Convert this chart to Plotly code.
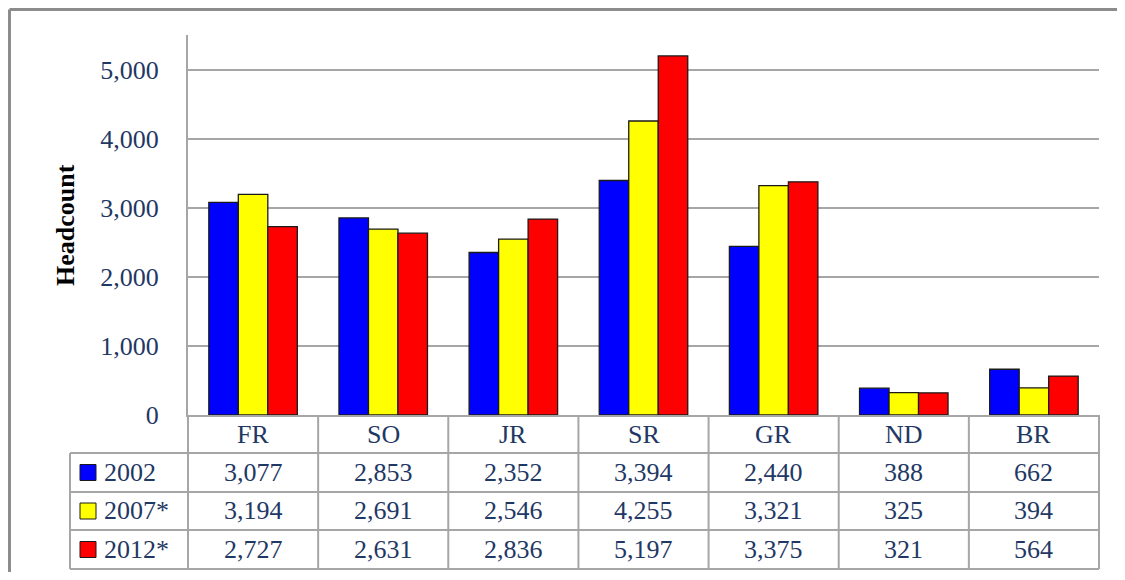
import plotly.graph_objects as go

categories = ["FR", "SO", "JR", "SR", "GR", "ND", "BR"]
series_names = ["2002", "2007*", "2012*"]
v2002 = [3077, 2853, 2352, 3394, 2440, 388, 662]
v2007 = [3194, 2691, 2546, 4255, 3321, 325, 394]
v2012 = [2727, 2631, 2836, 5197, 3375, 321, 564]
colors = ["#0000FF", "#FFFF00", "#FF0000"]
y_ticks = [0, 1000, 2000, 3000, 4000, 5000]

series = [v2002, v2007, v2012]

# page body has an 8px margin all round, keep the figure inside the window
OFF = 8
W, H = 1125 - 2 * OFF, 580 - 2 * OFF
L, R, T, B = 180, 18, 27, 157
PW, PH = W - L - R, H - T - B

# screen pixel -> paper helpers for the table drawn under the plot
def px(x):
    return (x - OFF - L) / PW

def py(y):
    return (H - B - (y - OFF)) / PH

navy = "#1F3864"
grey = "#A6A6A6"
font = "Liberation Serif"
fs = 26

fig = go.Figure()
for name, vals, col in zip(series_names, series, colors):
    fig.add_trace(go.Bar(x=categories, y=vals, name=name,
                         marker=dict(color=col, line=dict(color="#1a1a1a", width=1.3)),
                         showlegend=False))

shapes = []
annotations = []

# outer frame: only top and left edges show in the picture
frame = dict(color="#8C8C8C", width=3)
shapes.append(dict(type="line", xref="paper", yref="paper",
                   x0=px(9.5), x1=px(1140), y0=py(9.5), y1=py(9.5), line=frame))
shapes.append(dict(type="line", xref="paper", yref="paper",
                   x0=px(9.5), x1=px(9.5), y0=py(9.5), y1=py(600), line=frame))

# data table rows: header row then one row per series
row_edges = [415, 453, 492, 530, 569]
n = len(categories)
for y in row_edges[1:]:
    shapes.append(dict(type="line", xref="paper", yref="paper",
                       x0=px(70), x1=1, y0=py(y), y1=py(y),
                       line=dict(color=grey, width=2)))
for i in range(n + 1):
    shapes.append(dict(type="line", xref="paper", yref="paper",
                       x0=i / n, x1=i / n, y0=py(415), y1=py(569),
                       line=dict(color=grey, width=2)))
shapes.append(dict(type="line", xref="paper", yref="paper",
                   x0=px(70), x1=px(70), y0=py(453), y1=py(569),
                   line=dict(color=grey, width=2)))

txt = dict(family=font, size=fs, color=navy)

# header labels
for c in categories:
    annotations.append(dict(x=c, xref="x", y=py(434), yref="paper", text=c,
                            xanchor="center", yanchor="middle",
                            showarrow=False, font=txt))

# series rows
for r, (name, vals, col) in enumerate(zip(series_names, series, colors)):
    yc = (row_edges[r + 1] + row_edges[r + 2]) / 2
    shapes.append(dict(type="rect", xref="paper", yref="paper",
                       x0=px(80), x1=px(96), y0=py(yc + 8), y1=py(yc - 8),
                       fillcolor=col, line=dict(color="#1a1a1a", width=1)))
    annotations.append(dict(x=px(102), xref="paper", y=py(yc), yref="paper",
                            text=name, xanchor="left", yanchor="middle",
                            showarrow=False, font=txt))
    for c, v in zip(categories, vals):
        annotations.append(dict(x=c, xref="x", y=py(yc), yref="paper",
                                text=f"{v:,}", xanchor="center", yanchor="middle",
                                showarrow=False, font=txt))

# y axis title
annotations.append(dict(x=px(65), xref="paper", y=py(225), yref="paper",
                        text="<b>Headcount</b>", textangle=-90, showarrow=False,
                        xanchor="center", yanchor="middle",
                        font=dict(family=font, size=fs, color="black")))

fig.update_layout(
    width=W, height=H,
    margin=dict(l=L, r=R, t=T, b=B),
    paper_bgcolor="white", plot_bgcolor="white",
    barmode="group", bargap=0.32, bargroupgap=0,
    shapes=shapes, annotations=annotations,
    font=dict(family=font, size=fs, color=navy),
)
fig.update_xaxes(showticklabels=False, showline=True, linecolor=grey, linewidth=2,
                 showgrid=False, ticks="")
fig.update_yaxes(range=[0, 5500], tickvals=y_ticks, tickformat=",",
                 showline=True, linecolor=grey, linewidth=2,
                 showgrid=True, gridcolor=grey, gridwidth=1.5,
                 zeroline=False, ticks="", ticklabelstandoff=22,
                 tickfont=dict(family=font, size=fs, color=navy))

fig.write_html("out.html")
